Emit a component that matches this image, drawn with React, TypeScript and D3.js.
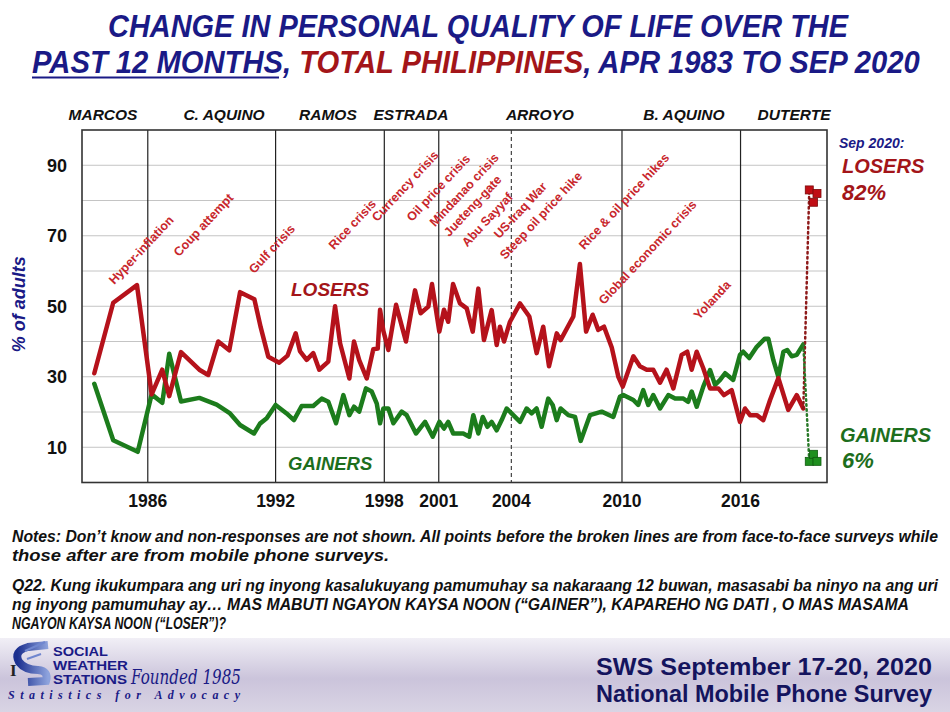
import React, { useLayoutEffect, useRef, useState } from "react";
import * as d3 from "d3";

// ---------- DATA ----------
const losersDates = [1983.27, 1984.25, 1985.48, 1986.24, 1986.79, 1987.15, 1987.76, 1988.71, 1989.17, 1989.69, 1990.26, 1990.82, 1991.56, 1991.89, 1992.28, 1992.85, 1993.28, 1993.70, 1993.92, 1994.27, 1994.61, 1994.92, 1995.39, 1995.74, 1996.00, 1996.48, 1996.72, 1996.99, 1997.38, 1997.72, 1997.95, 1998.07, 1998.24, 1998.50, 1998.90, 1999.41, 1999.88, 2000.17, 2000.57, 2000.76, 2001.14, 2001.38, 2001.60, 2001.85, 2002.21, 2002.56, 2002.87, 2003.16, 2003.45, 2003.85, 2004.11, 2004.28, 2004.49, 2004.80, 2005.32, 2005.80, 2006.18, 2006.52, 2006.82, 2007.22, 2007.42, 2008.08, 2008.42, 2008.74, 2009.08, 2009.37, 2009.67, 2010.07, 2010.41, 2010.64, 2011.19, 2011.53, 2011.88, 2012.22, 2012.57, 2012.91, 2013.26, 2013.69, 2013.98, 2014.21, 2014.47, 2014.81, 2015.16, 2015.59, 2015.88, 2016.28, 2016.71, 2016.97, 2017.23, 2017.58, 2017.92, 2018.27, 2018.70, 2019.21, 2019.65, 2019.99];
const losersValues = [31, 51, 56, 25, 32, 24.5, 37, 32, 30.5, 40, 37.5, 54, 52, 44, 35.7, 34, 36, 42.3, 37.3, 34.8, 36.7, 32, 34.3, 50, 39.5, 29.5, 40, 34.7, 29.5, 37.8, 38, 49, 43, 37.6, 50.4, 40, 54.5, 48, 49.9, 56.3, 42.8, 49, 45.6, 56.3, 50.8, 49.4, 42.8, 55, 40.4, 48.9, 39, 44.2, 40, 45.6, 50.8, 47.1, 36.7, 44.2, 33, 42.3, 40.4, 47.1, 62, 42.8, 47.6, 43.3, 44.2, 38.3, 30, 27.2, 35.8, 33, 32, 32, 28.3, 32, 26.7, 36.2, 37.1, 32, 37.1, 32.4, 26.7, 26.7, 24.8, 26.2, 17.2, 21, 19.1, 19.1, 17.7, 23.4, 29.6, 20.6, 24.8, 21];

const gainersDates = [1983.27, 1984.25, 1985.52, 1986.24, 1986.79, 1987.15, 1987.76, 1988.71, 1989.61, 1990.30, 1990.82, 1991.54, 1991.85, 1992.20, 1992.66, 1993.23, 1993.61, 1994.01, 1994.61, 1995.05, 1995.39, 1995.79, 1996.17, 1996.48, 1996.72, 1996.99, 1997.34, 1997.64, 1997.90, 1998.07, 1998.24, 1998.50, 1998.76, 1999.19, 1999.45, 1999.93, 2000.40, 2000.80, 2001.14, 2001.38, 2001.60, 2001.86, 2002.38, 2002.69, 2002.90, 2003.16, 2003.39, 2003.63, 2003.85, 2004.11, 2004.37, 2004.63, 2004.97, 2005.32, 2005.66, 2005.92, 2006.18, 2006.44, 2006.78, 2007.01, 2007.22, 2007.42, 2007.82, 2008.17, 2008.46, 2008.94, 2009.55, 2010.15, 2010.49, 2010.67, 2011.19, 2011.44, 2011.70, 2011.96, 2012.22, 2012.57, 2013.00, 2013.35, 2013.78, 2014.03, 2014.21, 2014.47, 2014.81, 2015.16, 2015.42, 2015.68, 2015.94, 2016.36, 2016.71, 2016.88, 2017.19, 2017.58, 2018.00, 2018.18, 2018.44, 2018.70, 2018.96, 2019.16, 2019.39, 2019.65, 2019.99];
const gainersValues = [28, 12, 8.7, 25, 22.6, 36.5, 23, 24, 22.1, 19.6, 16.3, 13.9, 16.7, 18.2, 22, 19.6, 17.7, 21.7, 21.7, 23.8, 22.9, 16.8, 24.8, 19.1, 21.5, 20.1, 26.7, 25.8, 22.4, 16.8, 21, 21, 16.8, 20.1, 19.1, 13.9, 17.2, 13, 17.2, 15.3, 17.2, 13.9, 13.9, 13, 19.1, 13.9, 18.6, 15.8, 17.2, 14.8, 17.7, 21, 19.1, 17.2, 21, 19.6, 21, 15.8, 23.8, 22, 17.7, 21, 19.1, 18.6, 11.8, 19.1, 20.1, 18.6, 24.3, 24.8, 23.4, 22, 26.2, 22, 24.8, 21, 24.8, 23.8, 23.8, 22.9, 25.8, 21.5, 27.2, 31.9, 27.7, 29.1, 31, 29.1, 36.2, 37.1, 35.3, 38.5, 40.8, 40.8, 34.7, 30, 37.1, 37.6, 35.8, 36.2, 39.2];

const mobileDates = [2020.3, 2020.52, 2020.7];
const mobileLosers = [83, 79.5, 82];
const mobileGainers = [6, 8, 6];

const termDates = [1986.04, 1992.66, 1998.29, 2001.11, 2004.87, 2010.6, 2016.74];
const termLabels = ["1986", "1992", "1998", "2001", "2004", "2010", "2016"];
const termDashed = [false, false, false, false, true, false, false];

const presidentNames = ["MARCOS", "C. AQUINO", "RAMOS", "ESTRADA", "ARROYO", "B. AQUINO", "DUTERTE"];
const presidentCenters = [1983.72, 1989.99, 1995.37, 1999.67, 2006.35, 2013.81, 2019.51];

const eventNames = ["Hyper-inflation", "Coup attempt", "Gulf crisis", "Rice crisis", "Currency crisis", "Oil price crisis", "Mindanao crisis", "Jueteng-gate", "Abu Sayyaf", "US-Iraq War", "Steep oil price hike", "Rice & oil price hikes", "Global economic crisis", "Yolanda"];
const eventDates = [1984.3, 1987.66, 1991.55, 1995.69, 1997.92, 1999.73, 2000.92, 2001.65, 2002.58, 2004.24, 2004.55, 2008.64, 2009.67, 2014.59];
const eventValues = [56, 63.9, 59.1, 65.9, 73.8, 73.8, 72.4, 69.6, 66.7, 69, 63.1, 65.9, 50.3, 46];

const yTicks = [10, 30, 50, 70, 90];
const yGrid = [10, 20, 30, 40, 50, 60, 70, 80, 90];

const titleLine1 = "CHANGE IN PERSONAL  QUALITY OF LIFE OVER THE";
const titleLine2Parts = ["PAST 12 MONTHS, ", "TOTAL PHILIPPINES", ", APR 1983 TO SEP 2020"];

const notesLines = [
  "Notes: Don\u2019t know and non-responses are not shown. All points before the broken lines are from face-to-face  surveys while",
  "those after are from mobile phone surveys.",
];
const questionLines = [
  "Q22. Kung ikukumpara ang uri ng inyong kasalukuyang pamumuhay sa nakaraang 12 buwan, masasabi ba ninyo na ang uri",
  "ng inyong pamumuhay ay\u2026 MAS MABUTI NGAYON KAYSA NOON (\u201cGAINER\u201d), KAPAREHO NG DATI , O MAS MASAMA",
  "NGAYON KAYSA NOON (\u201cLOSER\u201d)?",
];

// ---------- STYLE ----------
const W = 950, H = 712;
const PL = 82, PR = 827, PT = 130, PB = 482.5;
const RED = "#b5121b";
const GREEN = "#1c7c1c";
const NAVY = "#1a1a86";
const LABEL_RED = "#a31519";
const LABEL_GREEN = "#1d6e1d";
const EVENT_RED = "#c8262c";
const FONT = "'Liberation Sans', Arial, sans-serif";

export default function App() {
  const x = d3.scaleLinear().domain([1983.27, 2020.7]).range([94.3, 817]);
  const y = d3.scaleLinear().domain([0, 100]).range([PB, PT]);

  const t1Ref = useRef<SVGTextElement>(null);
  const t2Ref = useRef<SVGTextElement>(null);
  const [k1, setK1] = useState(0.85);
  const [k2, setK2] = useState(0.85);
  useLayoutEffect(() => {
    if (t1Ref.current) setK1(740 / t1Ref.current.getComputedTextLength());
    if (t2Ref.current) setK2(888 / t2Ref.current.getComputedTextLength());
  }, []);

  const line = d3
    .line<[number, number]>()
    .x((d) => x(d[0]))
    .y((d) => y(d[1]));

  const losersPts = losersDates.map((d, i) => [d, losersValues[i]] as [number, number]);
  const gainersPts = gainersDates.map((d, i) => [d, gainersValues[i]] as [number, number]);

  const lastL = losersPts[losersPts.length - 1];
  const lastG = gainersPts[gainersPts.length - 1];

  const sq = 8;
  const noteProps = { fontSize: 16, fontWeight: "bold", fontStyle: "italic", fill: "#111", lengthAdjust: "spacingAndGlyphs" } as any;

  return (
    <svg width={W} height={H} viewBox={`0 0 ${W} ${H}`} style={{ display: "block", position: "absolute", left: 0, top: 0 }} fontFamily={FONT}>
      <defs>
        <linearGradient id="foot" x1="0" y1="0" x2="0" y2="1">
          <stop offset="0" stopColor="#f1eff6" />
          <stop offset="0.55" stopColor="#cbc4db" />
          <stop offset="1" stopColor="#d9d4e4" />
        </linearGradient>
        <linearGradient id="logo" x1="0" y1="0" x2="1" y2="0">
          <stop offset="0" stopColor="#1b2f8f" />
          <stop offset="1" stopColor="#8ea3dd" />
        </linearGradient>
      </defs>
      <rect x={0} y={0} width={W} height={H} fill="#ffffff" />

      {/* Title */}
      <g transform={`translate(108,37) scale(${k1},1)`}>
        <text ref={t1Ref} x={0} y={0} fontSize={32} fontWeight="bold" fontStyle="italic" fill={NAVY}>
          {titleLine1}
        </text>
      </g>
      <g transform={`translate(32,73) scale(${k2},1)`}>
        <text ref={t2Ref} x={0} y={0} fontSize={32} fontWeight="bold" fontStyle="italic" fill={NAVY}>
          <tspan>{titleLine2Parts[0]}</tspan>
          <tspan fill={LABEL_RED}>{titleLine2Parts[1]}</tspan>
          <tspan>{titleLine2Parts[2]}</tspan>
        </text>
      </g>
      <line x1={32} x2={279} y1={77.5} y2={77.5} stroke={NAVY} strokeWidth={2} />

      {/* Grid */}
      {yGrid.map((v) => (
        <line key={"g" + v} x1={PL} x2={PR} y1={y(v)} y2={y(v)} stroke="#c4c4c4" strokeWidth={1} />
      ))}

      {/* Term separators */}
      {termDates.map((d, i) => (
        <line key={"t" + i} x1={x(d)} x2={x(d)} y1={PT} y2={PB} stroke={termDashed[i] ? "#444" : "#222"} strokeWidth={1.2} strokeDasharray={termDashed[i] ? "4,3" : undefined} />
      ))}

      {/* Frame */}
      <rect x={PL} y={PT} width={PR - PL} height={PB - PT} fill="none" stroke="#333" strokeWidth={1.6} />

      {/* Y ticks */}
      {yTicks.map((v) => (
        <text key={"y" + v} x={67} y={y(v) + 6.5} textAnchor="end" fontSize={18} fontWeight="bold" fill="#111">
          {v}
        </text>
      ))}
      <text transform={`translate(25,${y(50) - 2}) rotate(-90)`} textAnchor="middle" fontSize={18} fontWeight="bold" fontStyle="italic" fill={NAVY}>
        % of adults
      </text>

      {/* X term labels */}
      {termDates.map((d, i) => (
        <text key={"xl" + i} x={x(d)} y={507} textAnchor="middle" fontSize={17.5} fontWeight="bold" fill="#111">
          {termLabels[i]}
        </text>
      ))}

      {/* President labels */}
      {presidentNames.map((n, i) => (
        <text key={"p" + i} x={x(presidentCenters[i])} y={120} textAnchor="middle" fontSize={15.5} fontWeight="bold" fontStyle="italic" fill="#111">
          {n}
        </text>
      ))}

      {/* Events */}
      {eventNames.map((n, i) => {
        const ex = x(eventDates[i]);
        const ey = y(eventValues[i]);
        return (
          <text key={"e" + i} transform={`translate(${ex},${ey}) rotate(-47)`} fontSize={12.5} fontWeight="bold" fill={EVENT_RED}>
            {n}
          </text>
        );
      })}

      {/* Series lines */}
      <path d={line(gainersPts) || ""} fill="none" stroke={GREEN} strokeWidth={4.5} strokeLinejoin="round" strokeLinecap="round" />
      <path d={line(losersPts) || ""} fill="none" stroke={RED} strokeWidth={4.5} strokeLinejoin="round" strokeLinecap="round" />

      {/* Dotted connectors to mobile surveys */}
      <line x1={x(lastL[0])} y1={y(lastL[1])} x2={x(mobileDates[0])} y2={y(mobileLosers[0])} stroke="#8e1a1a" strokeWidth={2.5} strokeDasharray="1.5,3.5" strokeLinecap="round" />
      <line x1={x(lastG[0])} y1={y(lastG[1])} x2={x(mobileDates[0])} y2={y(mobileGainers[0])} stroke="#2a7a2a" strokeWidth={2.5} strokeDasharray="1.5,3.5" strokeLinecap="round" />

      {/* Mobile survey markers */}
      {mobileDates.map((d, i) => (
        <rect key={"ml" + i} x={x(d) - sq / 2} y={y(mobileLosers[i]) - sq / 2} width={sq} height={sq} fill="#c00d14" stroke="#7a0a0a" strokeWidth={0.8} />
      ))}
      {mobileDates.map((d, i) => (
        <rect key={"mg" + i} x={x(d) - sq / 2} y={y(mobileGainers[i]) - sq / 2} width={sq} height={sq} fill="#1f8f1f" stroke="#0f5a0f" strokeWidth={0.8} />
      ))}

      {/* In-plot series labels */}
      <text x={291} y={296} fontSize={19} fontWeight="bold" fontStyle="italic" fill={LABEL_RED}>LOSERS</text>
      <text x={288} y={470} fontSize={18.5} fontWeight="bold" fontStyle="italic" fill={LABEL_GREEN}>GAINERS</text>

      {/* Right side labels */}
      <text x={839} y={148} fontSize={14} fontWeight="bold" fontStyle="italic" fill={NAVY}>Sep 2020:</text>
      <text x={842} y={173} fontSize={20} fontWeight="bold" fontStyle="italic" fill={LABEL_RED}>LOSERS</text>
      <text x={842} y={200} fontSize={22} fontWeight="bold" fontStyle="italic" fill={LABEL_RED}>{mobileLosers[2]}%</text>
      <text x={840} y={442} fontSize={20} fontWeight="bold" fontStyle="italic" fill={LABEL_GREEN}>GAINERS</text>
      <text x={842} y={468} fontSize={22} fontWeight="bold" fontStyle="italic" fill={LABEL_GREEN}>{mobileGainers[2]}%</text>

      {/* Notes */}
      <text x={12} y={542} {...noteProps} textLength={926}>{notesLines[0]}</text>
      <text x={12} y={561} {...noteProps} textLength={377}>{notesLines[1]}</text>
      <text x={12} y={591} {...noteProps} textLength={926}>{questionLines[0]}</text>
      <text x={12} y={610} {...noteProps} textLength={897}>{questionLines[1]}</text>
      <text x={12} y={629} {...noteProps} textLength={214}>{questionLines[2]}</text>

      {/* Footer band */}
      <rect x={0} y={638} width={W} height={H - 638} fill="url(#foot)" />

      {/* Logo */}
      <text x={10} y={676} fontSize={17} fontFamily="'Liberation Serif', serif" fontWeight="bold" fill="#222">I</text>
      <path d="M48,645 L28,647 Q13,651 19,662 Q25,670 38,670 Q49,671 46,681 L28,682" fill="none" stroke="url(#logo)" strokeWidth={8} />
      <path d="M45,642 L25,651 M41,654 L27,659" fill="none" stroke="#6f86cf" strokeWidth={2} />
      <text x={53} y={656} fontSize={12.5} fontWeight="bold" fill={NAVY} textLength={55} lengthAdjust="spacingAndGlyphs">SOCIAL</text>
      <text x={53} y={670} fontSize={12.5} fontWeight="bold" fill={NAVY} textLength={75} lengthAdjust="spacingAndGlyphs">WEATHER</text>
      <text x={53} y={684} fontSize={12.5} fontWeight="bold" fill={NAVY} textLength={74} lengthAdjust="spacingAndGlyphs">STATIONS</text>
      <text x={131} y={684} fontSize={21} fontStyle="italic" fontFamily="'DejaVu Serif', serif" fill={NAVY} textLength={110} lengthAdjust="spacingAndGlyphs">Founded 1985</text>
      <text x={8} y={699} fontSize={12} fontStyle="italic" fontWeight="bold" fontFamily="'Liberation Serif', serif" fill={NAVY} textLength={232} lengthAdjust="spacing">Statistics for Advocacy</text>

      {/* Footer right */}
      <text x={596} y={675} fontSize={23} fontWeight="bold" fill="#14145e" textLength={336} lengthAdjust="spacingAndGlyphs">SWS September 17-20, 2020</text>
      <text x={596} y={702} fontSize={23} fontWeight="bold" fill="#14145e" textLength={336} lengthAdjust="spacingAndGlyphs">National Mobile Phone Survey</text>
    </svg>
  );
}
